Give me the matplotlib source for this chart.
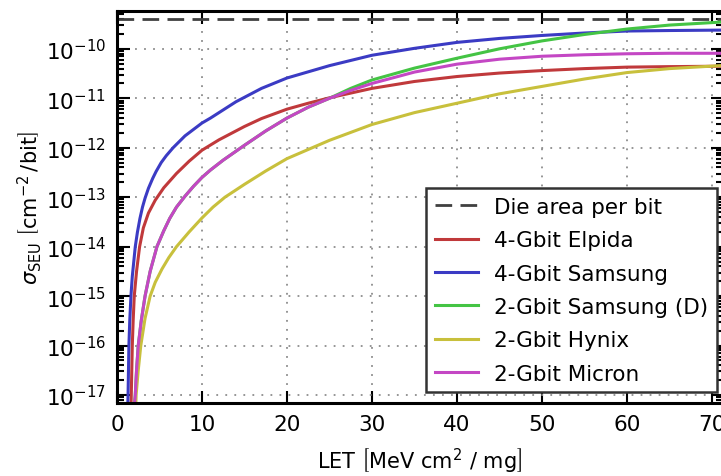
import matplotlib
matplotlib.use("Agg")
import matplotlib.pyplot as plt
import numpy as np

plt.rcParams["font.family"] = ["DejaVu Sans"]
plt.rcParams["mathtext.fontset"] = "dejavusans"

# values (log10 of cross-section per bit)
die_area = 4.0e-10

elpida_x = [1.6, 1.68, 1.8, 1.9, 2.03, 2.3, 2.66, 3.1, 3.7, 4.5, 5.5, 7, 8.5, 10, 12, 15,
            17, 20, 22.5, 25, 30, 35, 40, 45, 50, 55, 60, 65, 72]
elpida_log = [-17.6, -17, -16, -15.5, -15, -14.5, -14, -13.62, -13.32, -13.06, -12.81, -12.52,
              -12.27, -12.05, -11.84, -11.57, -11.41, -11.22, -11.1, -10.99, -10.8, -10.66,
              -10.56, -10.49, -10.44, -10.4, -10.37, -10.36, -10.35]

samsung4_x = [1.22, 1.3, 1.4, 1.5, 1.64, 1.8, 2.15, 2.4, 2.7, 3.0, 3.3, 3.7, 4.2, 4.6, 5.2,
              5.8, 6.6, 7.3, 8, 9, 10, 11, 12, 13, 14, 17, 20, 25, 30, 35, 40, 45, 50,
              55, 60, 65, 72]
samsung4_log = [-17.6, -17, -16, -15.5, -15, -14.6, -14, -13.71, -13.43, -13.2, -13.02, -12.82,
                -12.62, -12.48, -12.3, -12.16, -12.0, -11.88, -11.76, -11.63, -11.5, -11.4,
                -11.29, -11.18, -11.07, -10.8, -10.59, -10.34, -10.13, -9.99, -9.87, -9.79,
                -9.73, -9.68, -9.64, -9.63, -9.62]

samsung2_x = [1.95, 2.05, 2.15, 2.3, 2.5, 2.85, 3.3, 3.9, 4.7, 5.5, 6.2, 7, 8, 9, 10, 11,
              12.5, 15, 17.5, 20, 22.5, 25, 27.5, 30, 35, 40, 45, 50, 55, 60, 65, 72]
samsung2_log = [-17.6, -17.2, -17, -16.5, -16, -15.5, -15, -14.5, -14, -13.68, -13.43, -13.2,
                -12.98, -12.78, -12.6, -12.45, -12.25, -11.95, -11.66, -11.4, -11.18, -11.0,
                -10.8, -10.63, -10.39, -10.19, -10.0, -9.84, -9.71, -9.6, -9.52, -9.45]

hynix_x = [2.15, 2.25, 2.5, 2.8, 3.3, 3.9, 4.5, 5.3, 6.1, 7.0, 8.5, 10, 11.3, 12.7, 15, 17.5,
           20, 25, 30, 35, 40, 45, 50, 55, 60, 65, 72]
hynix_log = [-17.6, -17, -16.5, -16, -15.45, -15, -14.72, -14.45, -14.22, -14.0, -13.7, -13.42,
             -13.2, -13.0, -12.74, -12.47, -12.22, -11.85, -11.53, -11.29, -11.1, -10.91,
             -10.76, -10.61, -10.48, -10.4, -10.33]

micron_x = [1.95, 2.05, 2.15, 2.3, 2.5, 2.85, 3.3, 3.9, 4.7, 5.5, 6.2, 7, 8, 9, 10, 11,
            12.5, 15, 17.5, 20, 22.5, 25, 27.5, 30, 35, 40, 45, 50, 55, 60, 65, 72]
micron_log = [-17.6, -17.2, -17, -16.5, -16, -15.5, -15, -14.5, -14, -13.68, -13.43, -13.2,
              -12.98, -12.78, -12.6, -12.45, -12.25, -11.95, -11.66, -11.4, -11.18, -11.0,
              -10.84, -10.7, -10.47, -10.31, -10.21, -10.15, -10.12, -10.1, -10.09, -10.09]

labels = ["4-Gbit Elpida", "4-Gbit Samsung", "2-Gbit Samsung (D)", "2-Gbit Hynix", "2-Gbit Micron"]
colors = ["#c0393b", "#3b3bc4", "#44c444", "#c8c03c", "#c447c4"]
series = [(elpida_x, elpida_log), (samsung4_x, samsung4_log), (samsung2_x, samsung2_log),
          (hynix_x, hynix_log), (micron_x, micron_log)]

fig = plt.figure(figsize=(7.21, 4.77), dpi=100)
ax = fig.add_axes([117 / 721, 1 - 404 / 477, 606 / 721, (404 - 11.7) / 477])

ax.axhline(die_area, color="0.25", ls="--", dashes=(6, 3), lw=2, label="Die area per bit")
for (xs, ls_), lab, c in zip(series, labels, colors):
    ax.plot(xs, 10.0 ** np.array(ls_), color=c, lw=2.2, label=lab)

ax.set_yscale("log")
ax.set_xlim(0, 71.3)
ax.set_ylim(6.9e-18, 5.9e-10)
ax.set_xticks(range(0, 71, 10))
ax.grid(True, which="major", color="0.55", ls=(0, (1, 4)), lw=1.3)

ax.tick_params(which="both", direction="in", top=True, right=True, labelsize=15.5, width=1.5)
ax.tick_params(which="major", length=9, pad=8)
ax.tick_params(which="minor", length=5)
for s in ax.spines.values():
    s.set_linewidth(2.2)

ax.set_xlabel(r"LET $\left[\mathrm{MeV\ cm^2\ /\ mg}\right]$", fontsize=15, labelpad=8)
ax.set_ylabel(r"$\sigma_{\mathrm{SEU}}\ \left[\mathrm{cm}^{-2}\,/\mathrm{bit}\right]$",
              fontsize=15, labelpad=1)

leg = ax.legend(loc="lower right", bbox_to_anchor=(716.7 / 721, 1 - 393.3 / 477),
                bbox_transform=fig.transFigure, borderaxespad=0, fontsize=15.5,
                fancybox=False, framealpha=1, edgecolor="0.2", handlelength=2.0,
                handletextpad=0.75, labelspacing=0.62)
leg.get_frame().set_linewidth(1.8)

fig.savefig("out.png", dpi=100)
